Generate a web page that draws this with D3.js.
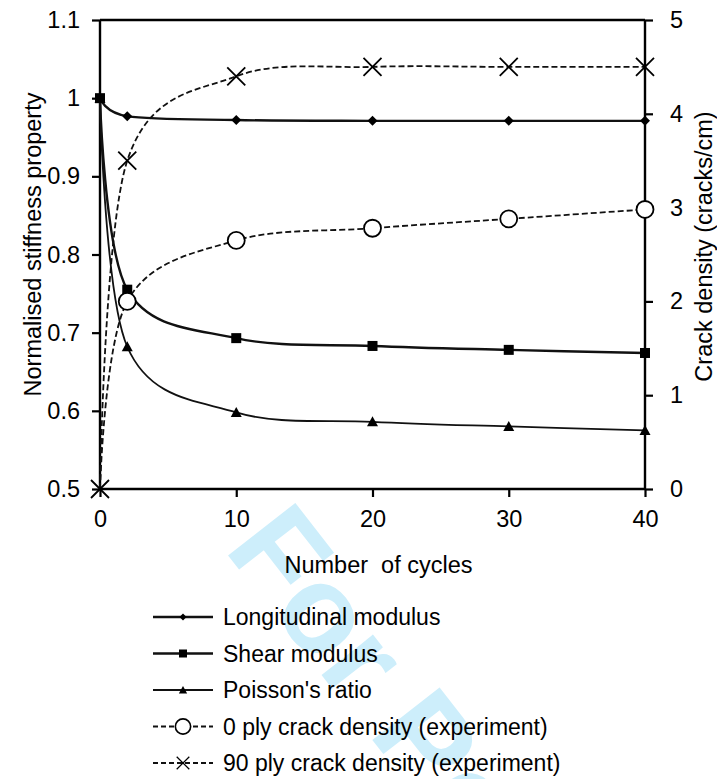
<!DOCTYPE html>
<html>
<head>
<meta charset="utf-8">
<script src="https://cdn.jsdelivr.net/npm/d3@7"></script>
<style>
    body { margin: 0; background: #fff; }
    svg { display: block; font-family: "Liberation Sans", Arial, sans-serif; }
</style>
</head>
<body>
<div id="chart"></div>
<script>
// values
const cycles = [0, 2, 10, 20, 30, 40];
const longitudinalModulus = [1.0, 0.977, 0.972, 0.971, 0.971, 0.971];
const shearModulus = [1.0, 0.755, 0.693, 0.683, 0.678, 0.674];
const poissonsRatio = [1.0, 0.682, 0.598, 0.586, 0.580, 0.575];
const crackDensity0 = [0, 2.0, 2.65, 2.78, 2.88, 2.98];
const crackDensity90 = [0, 3.5, 4.4, 4.5, 4.5, 4.5];

const xTicks = [0, 10, 20, 30, 40];
const leftTicks = [0.5, 0.6, 0.7, 0.8, 0.9, 1, 1.1];
const rightTicks = [0, 1, 2, 3, 4, 5];

const seriesNames = [
    "Longitudinal modulus",
    "Shear modulus",
    "Poisson's ratio",
    "0 ply crack density (experiment)",
    "90 ply crack density (experiment)"
];

const FONT = 23.5;

class StiffnessChartD3 {
    margin = {top: 20, right: 72, bottom: 290, left: 100};
    width;
    height;
    svg;

    constructor(el) {
        this.el = el;
    }

    create(config) {
        this.size = {width: config.size.width, height: config.size.height};
        this.width = this.size.width - this.margin.left - this.margin.right;
        this.height = this.size.height - this.margin.top - this.margin.bottom;

        this.root = d3.select(this.el)
            .append("svg")
            .attr("width", this.size.width)
            .attr("height", this.size.height);

        // faint watermark behind everything
        this.root.append("text")
            .attr("transform", "translate(223,549) rotate(52)")
            .attr("font-size", 124)
            .attr("font-weight", "bold")
            .attr("fill", "#cdeefb")
            .text("For Peer Review");

        this.svg = this.root.append("g")
            .attr("transform", `translate(${this.margin.left},${this.margin.top})`);
    }

    marker(g, type, x, y) {
        switch (type) {
            case "diamond":
                g.append("path")
                    .attr("d", `M${x},${y - 5}L${x + 5},${y}L${x},${y + 5}L${x - 5},${y}Z`)
                    .attr("fill", "#000");
                break;
            case "square":
                g.append("rect")
                    .attr("x", x - 5).attr("y", y - 5)
                    .attr("width", 10).attr("height", 10)
                    .attr("fill", "#000");
                break;
            case "triangle":
                g.append("path")
                    .attr("d", `M${x},${y - 5.5}L${x + 5.5},${y + 4.5}L${x - 5.5},${y + 4.5}Z`)
                    .attr("fill", "#000");
                break;
            case "circle":
                g.append("circle")
                    .attr("cx", x).attr("cy", y).attr("r", 8.5)
                    .attr("fill", "#fff")
                    .attr("stroke", "#000")
                    .attr("stroke-width", 1.8);
                break;
            case "cross":
                g.append("path")
                    .attr("d", `M${x - 9},${y - 9}L${x + 9},${y + 9}M${x + 9},${y - 9}L${x - 9},${y + 9}`)
                    .attr("stroke", "#000")
                    .attr("stroke-width", 1.8);
                break;
            default:
                break;
        }
    }

    render(series) {
        const x = d3.scaleLinear().domain([0, 40]).range([0, this.width]);
        const yLeft = d3.scaleLinear().domain([0.5, 1.1]).range([this.height, 0]);
        const yRight = d3.scaleLinear().domain([0, 5]).range([this.height, 0]);

        // axes with outward ticks
        const xAxis = this.svg.append("g")
            .attr("transform", `translate(0,${this.height})`)
            .call(d3.axisBottom(x).tickValues(xTicks).tickSize(8).tickPadding(13).tickFormat(d3.format("d")));
        const leftAxis = this.svg.append("g")
            .call(d3.axisLeft(yLeft).tickValues(leftTicks).tickSize(8).tickPadding(12).tickFormat(d => d === 1 ? "1" : d3.format(".1f")(d)));
        const rightAxis = this.svg.append("g")
            .attr("transform", `translate(${this.width},0)`)
            .call(d3.axisRight(yRight).tickValues(rightTicks).tickSize(8).tickPadding(17).tickFormat(d3.format("d")));

        [xAxis, leftAxis, rightAxis].forEach(a => {
            a.select(".domain").attr("stroke", "#000").attr("stroke-width", 2.4)
                .attr("d", a === xAxis ? `M0,0H${this.width}` : `M0,${this.height}V0`);
            a.selectAll(".tick line").attr("stroke", "#000").attr("stroke-width", 2.2);
            a.selectAll(".tick text").attr("fill", "#000").attr("font-size", FONT)
                .attr("font-family", "Liberation Sans, Arial, sans-serif");
        });

        // top border
        this.svg.append("line")
            .attr("x1", 0).attr("x2", this.width)
            .attr("y1", 0).attr("y2", 0)
            .attr("stroke", "#000").attr("stroke-width", 2.4);

        // axis titles
        this.svg.append("text")
            .attr("x", this.width / 2 + 6)
            .attr("y", this.height + 84)
            .attr("text-anchor", "middle")
            .attr("font-size", FONT)
            .style("white-space", "pre")
            .text("Number  of cycles");
        this.svg.append("text")
            .attr("transform", `translate(-59,${this.height / 2 - 10}) rotate(-90)`)
            .attr("text-anchor", "middle")
            .attr("font-size", FONT)
            .text("Normalised stiffness property");
        this.svg.append("text")
            .attr("transform", `translate(${this.width + 67},${this.height / 2 - 8}) rotate(-90)`)
            .attr("text-anchor", "middle")
            .attr("font-size", FONT)
            .text("Crack density (cracks/cm)");

        const line = yScale => d3.line()
            .x(d => x(d.cycle))
            .y(d => yScale(d.value))
            .curve(d3.curveCardinal.tension(0));

        series.forEach(s => {
            const yScale = s.axis === "left" ? yLeft : yRight;
            const pts = cycles.map((c, i) => ({cycle: c, value: s.values[i]}));
            this.svg.append("path")
                .datum(pts)
                .attr("d", line(yScale))
                .attr("fill", "none")
                .attr("stroke", "#111")
                .attr("stroke-width", s.width)
                .attr("stroke-dasharray", s.dashed ? "6,3" : null);
            const mg = this.svg.append("g");
            pts.forEach((p, i) => {
                if (s.skipFirst && i === 0) return;
                this.marker(mg, s.marker, x(p.cycle), yScale(p.value));
            });
        });

        // legend below the plot
        const legend = this.svg.append("g")
            .attr("transform", `translate(53,${this.height + 128})`);
        series.forEach((s, i) => {
            const row = legend.append("g").attr("transform", `translate(0,${i * 36.5})`);
            row.append("line")
                .attr("x1", 0).attr("x2", 60)
                .attr("stroke", "#111")
                .attr("stroke-width", s.width)
                .attr("stroke-dasharray", s.dashed ? "5,3" : null);
            const small = {diamond: 0.7, square: 0.8, triangle: 0.75, circle: 0.9, cross: 0.7}[s.marker];
            const mg = row.append("g").attr("transform", `translate(30,0) scale(${small})`);
            this.marker(mg, s.marker, 0, 0);
            row.append("text")
                .attr("x", 70)
                .attr("y", 8)
                .attr("font-size", 23)
                .text(seriesNames[i]);
        });
    }
}

const chart = new StiffnessChartD3(document.getElementById("chart"));
chart.create({size: {width: 717, height: 779}});
chart.render([
    {values: longitudinalModulus, axis: "left", marker: "diamond", width: 2.4, dashed: false},
    {values: shearModulus, axis: "left", marker: "square", width: 2.4, dashed: false},
    {values: poissonsRatio, axis: "left", marker: "triangle", width: 1.8, dashed: false},
    {values: crackDensity0, axis: "right", marker: "circle", width: 1.8, dashed: true, skipFirst: true},
    {values: crackDensity90, axis: "right", marker: "cross", width: 1.8, dashed: true}
]);
</script>
</body>
</html>
